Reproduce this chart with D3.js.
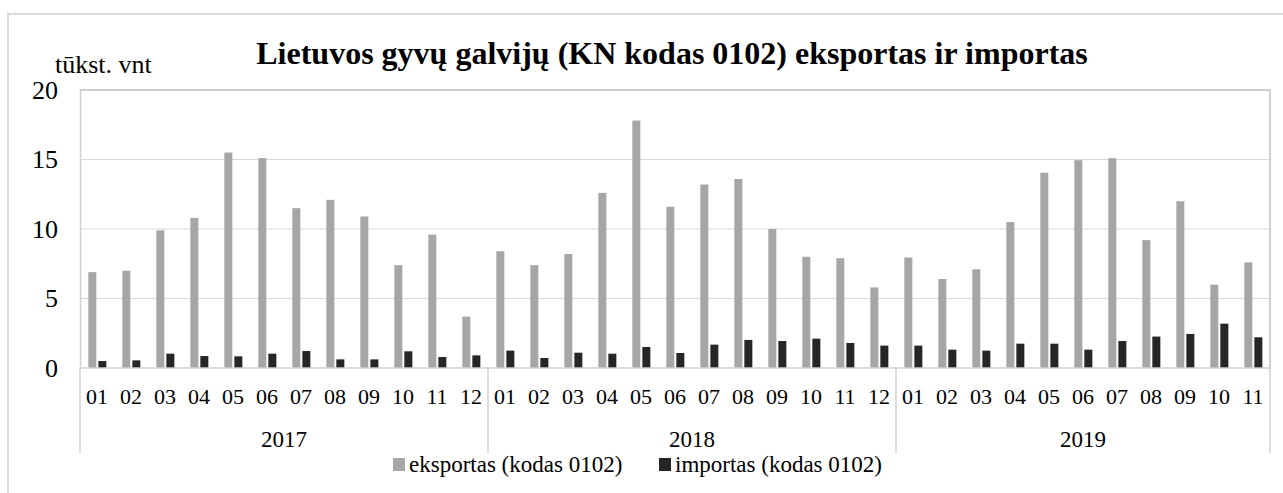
<!DOCTYPE html>
<html>
<head>
<meta charset="utf-8">
<script src="https://cdn.jsdelivr.net/npm/d3@7"></script>
<style>
  body { margin: 0; background: #fff; }
  svg { display: block; font-family: "Liberation Serif", "Times New Roman", serif; }
</style>
</head>
<body>
<script>
// data (tūkst. vnt)
var years = ["2017", "2018", "2019"];
var months = ["01","02","03","04","05","06","07","08","09","10","11","12",
              "01","02","03","04","05","06","07","08","09","10","11","12",
              "01","02","03","04","05","06","07","08","09","10","11"];
var monthYear = [
  "2017","2017","2017","2017","2017","2017","2017","2017","2017","2017","2017","2017",
  "2018","2018","2018","2018","2018","2018","2018","2018","2018","2018","2018","2018",
  "2019","2019","2019","2019","2019","2019","2019","2019","2019","2019","2019"];
var eksportas = [6.9, 7.0, 9.9, 10.8, 15.5, 15.1, 11.5, 12.1, 10.9, 7.4, 9.6, 3.7,
                 8.4, 7.4, 8.2, 12.6, 17.8, 11.6, 13.2, 13.6, 10.0, 8.0, 7.9, 5.8,
                 7.95, 6.4, 7.1, 10.5, 14.05, 14.95, 15.1, 9.2, 12.0, 6.0, 7.6];
var importas = [0.5, 0.55, 1.03, 0.86, 0.84, 1.03, 1.22, 0.62, 0.62, 1.2, 0.79, 0.91,
                1.25, 0.72, 1.1, 1.03, 1.51, 1.08, 1.68, 2.02, 1.94, 2.11, 1.8, 1.61,
                1.61, 1.32, 1.25, 1.75, 1.75, 1.32, 1.94, 2.26, 2.45, 3.19, 2.21];
var seriesNames = ["eksportas (kodas 0102)", "importas (kodas 0102)"];
var seriesColors = ["#a6a6a6", "#262626"];
var yTicks = [0, 5, 10, 15, 20];

var W = 1283, H = 493;
var plotLeft = 80, plotRight = 1270, plotTop = 90, plotBottom = 368;

var svg = d3.select("body").append("svg")
    .attr("width", W)
    .attr("height", H);

// outer chart frame
svg.append("rect")
    .attr("x", 8).attr("y", 14)
    .attr("width", W + 20).attr("height", H + 20)
    .attr("fill", "none")
    .attr("stroke", "#d9d9d9")
    .attr("stroke-width", 2);

var idx = d3.range(months.length);
var x0 = d3.scaleBand().domain(idx).range([plotLeft, plotRight]).padding(0);
var x1 = d3.scaleBand().domain([0, 1])
    .range([x0.bandwidth() * 0.245, x0.bandwidth() * 0.775])
    .paddingInner(0.2);
var y = d3.scaleLinear().domain([0, 20]).range([plotBottom, plotTop]);

// gridlines
svg.append("g")
  .selectAll("line")
  .data(yTicks.filter(function(d) { return d > 0 && d < 20; }))
  .enter().append("line")
    .attr("x1", plotLeft).attr("x2", plotRight)
    .attr("y1", function(d) { return y(d); })
    .attr("y2", function(d) { return y(d); })
    .attr("stroke", "#d9d9d9")
    .attr("stroke-width", 1);

// plot area border (top + right)
svg.append("path")
    .attr("d", "M" + plotLeft + "," + y(20) + "H" + plotRight + "V" + y(0))
    .attr("fill", "none")
    .attr("stroke", "#bfbfbf")
    .attr("stroke-width", 1.5);

// y axis
var yAxis = svg.append("g")
    .attr("transform", "translate(" + plotLeft + ",0)")
    .call(d3.axisLeft(y).tickValues(yTicks).tickSize(0).tickPadding(22));
yAxis.select(".domain").attr("stroke", "#d0d0d0").attr("stroke-width", 1.5);
yAxis.selectAll("text")
    .attr("font-size", "26px")
    .attr("fill", "#000")
    .attr("font-family", "Liberation Serif, serif");

// bars
var groups = svg.append("g")
  .selectAll("g")
  .data(idx)
  .enter().append("g")
    .attr("transform", function(i) { return "translate(" + x0(i) + ",0)"; });

groups.selectAll("rect")
  .data(function(i) { return [eksportas[i], importas[i]]; })
  .enter().append("rect")
    .attr("x", function(d, j) { return x1(j); })
    .attr("width", x1.bandwidth())
    .attr("y", function(d) { return y(d); })
    .attr("height", function(d) { return y(0) - y(d); })
    .attr("fill", function(d, j) { return seriesColors[j]; });

// x axis: zero line
svg.append("line")
    .attr("x1", plotLeft).attr("x2", plotRight)
    .attr("y1", y(0)).attr("y2", y(0))
    .attr("stroke", "#d0d0d0")
    .attr("stroke-width", 1.5);

// month labels
svg.append("g")
  .selectAll("text")
  .data(idx)
  .enter().append("text")
    .attr("x", function(i) { return x0(i) + x0.bandwidth() / 2; })
    .attr("y", 404)
    .attr("text-anchor", "middle")
    .attr("font-size", "22px")
    .text(function(i) { return months[i]; });

// year groups and separators
var yearSpans = years.map(function(yr) {
  var ids = idx.filter(function(i) { return monthYear[i] === yr; });
  return { year: yr, x0: x0(ids[0]), x1: x0(ids[ids.length - 1]) + x0.bandwidth() };
});

var seps = [yearSpans[0].x0].concat(yearSpans.map(function(s) { return s.x1; }));
svg.append("g")
  .selectAll("line")
  .data(seps)
  .enter().append("line")
    .attr("x1", function(d) { return d; })
    .attr("x2", function(d) { return d; })
    .attr("y1", y(0)).attr("y2", 453)
    .attr("stroke", "#d0d0d0")
    .attr("stroke-width", 1.5);

svg.append("g")
  .selectAll("text")
  .data(yearSpans)
  .enter().append("text")
    .attr("x", function(d) { return (d.x0 + d.x1) / 2; })
    .attr("y", 447)
    .attr("text-anchor", "middle")
    .attr("font-size", "23px")
    .text(function(d) { return d.year; });

// title
svg.append("text")
    .attr("x", 672)
    .attr("y", 64)
    .attr("text-anchor", "middle")
    .attr("font-size", "32px")
    .attr("font-weight", "bold")
    .text("Lietuvos gyvų galvijų (KN kodas 0102) eksportas ir importas");

// unit label
svg.append("text")
    .attr("x", 55)
    .attr("y", 73)
    .attr("font-size", "26px")
    .text("tūkst. vnt");

// legend
var legendX = [393, 659];
var legend = svg.append("g")
  .selectAll("g")
  .data(seriesNames)
  .enter().append("g")
    .attr("transform", function(d, i) { return "translate(" + legendX[i] + ",458)"; });
legend.append("rect")
    .attr("width", 12).attr("height", 13)
    .attr("fill", function(d, i) { return seriesColors[i]; });
legend.append("text")
    .attr("x", 16)
    .attr("y", 14)
    .attr("font-size", "23px")
    .text(function(d) { return d; });
</script>
</body>
</html>
